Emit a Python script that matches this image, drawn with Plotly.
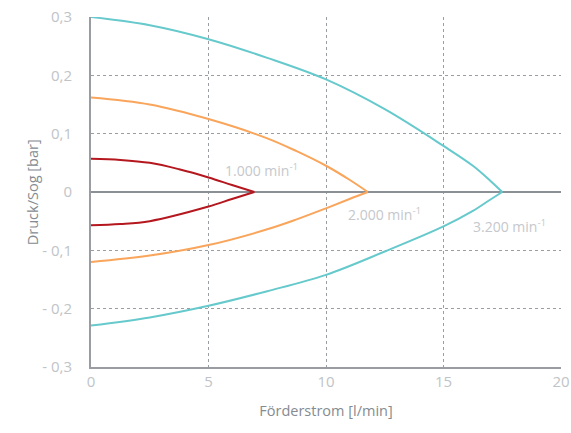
import plotly.graph_objects as go

# Data
teal_up_x = [0, 2.5, 5, 7.5, 10, 12.5, 15, 16.25, 17, 17.5]
teal_up_y = [0.300, 0.286, 0.262, 0.230, 0.193, 0.142, 0.079, 0.045, 0.019, 0.0]
teal_lo_x = [0, 2.5, 5, 7.5, 10, 12.5, 15, 16.25, 17, 17.5]
teal_lo_y = [-0.229, -0.215, -0.195, -0.170, -0.142, -0.102, -0.059, -0.0325, -0.0128, 0.0]

orange_up_x = [0, 2.5, 5, 7.5, 8.75, 10, 11, 11.78]
orange_up_y = [0.162, 0.150, 0.125, 0.092, 0.070, 0.045, 0.021, 0.0]
orange_lo_x = [0, 2.5, 5, 7.5, 8.75, 10, 11, 11.78]
orange_lo_y = [-0.120, -0.109, -0.091, -0.064, -0.047, -0.028, -0.012, 0.0]

red_up_x = [0, 1.25, 2.5, 3.75, 5, 6, 6.95]
red_up_y = [0.057, 0.055, 0.050, 0.039, 0.025, 0.012, 0.0]
red_lo_x = [0, 1.25, 2.5, 5, 6, 6.95]
red_lo_y = [-0.057, -0.055, -0.050, -0.025, -0.012, 0.0]

labels = ["1.000 min<sup>-1</sup>", "2.000 min<sup>-1</sup>", "3.200 min<sup>-1</sup>"]
label_x = [7.25, 12.5, 17.8]
label_y = [0.038, -0.038, -0.059]

y_ticks = [0.3, 0.2, 0.1, 0, -0.1, -0.2, -0.3]
y_ticktext = ["0,3", "0,2", "0,1", "0", "- 0,1", "- 0,2", "- 0,3"]
x_ticks = [0, 5, 10, 15, 20]

TEAL = "#66C9CC"
ORANGE = "#F9A55B"
RED = "#B5171E"

fig = go.Figure()
for xs, ys, c in [
    (teal_up_x, teal_up_y, TEAL), (teal_lo_x, teal_lo_y, TEAL),
    (orange_up_x, orange_up_y, ORANGE), (orange_lo_x, orange_lo_y, ORANGE),
    (red_up_x, red_up_y, RED), (red_lo_x, red_lo_y, RED),
]:
    fig.add_trace(go.Scatter(x=xs, y=ys, mode="lines",
                             line=dict(color=c, width=2, shape="spline", smoothing=1.0),
                             showlegend=False, hoverinfo="skip"))

for t, x, y in zip(labels, label_x, label_y):
    fig.add_annotation(x=x, y=y, text=t, showarrow=False,
                       font=dict(size=14, color="#C5C8CC", family="Open Sans"))

# y-axis title as a rotated annotation (exact placement)
fig.add_annotation(xref="paper", yref="paper", x=-0.125, y=0.5, text="Druck/Sog [bar]",
                   textangle=-90, showarrow=False, xanchor="center", yanchor="middle",
                   font=dict(size=14.5, color="#858B91", family="Open Sans"))

fig.update_layout(
    width=571, height=433,
    margin=dict(l=91, r=10, t=17, b=66),
    paper_bgcolor="white", plot_bgcolor="white",
    font=dict(family="Open Sans", color="#C0C4C8", size=14),
)
fig.update_xaxes(
    range=[0, 20], tickvals=x_ticks, showgrid=True, gridcolor="#9A9EA2", griddash="dot",
    gridwidth=1.2, showline=True, linecolor="#999DA1", linewidth=2, zeroline=False,
    ticks="", tickfont=dict(size=15, color="#C0C4C8"), automargin=False,
    title=dict(text="Förderstrom [l/min]", font=dict(size=14.5, color="#858B91"), standoff=16),
)
fig.update_yaxes(
    range=[-0.3, 0.3], tickvals=y_ticks, ticktext=y_ticktext, showgrid=True,
    gridcolor="#9A9EA2", griddash="dot", gridwidth=1.2, showline=True, linecolor="#999DA1",
    linewidth=2, zeroline=True, zerolinecolor="#8A9096", zerolinewidth=1.5,
    ticks="", tickfont=dict(size=15, color="#C0C4C8"), ticklabelstandoff=14, automargin=False,
)

fig.write_html("out.html", config={"displayModeBar": False},
               post_script="document.body.style.margin='0';")
